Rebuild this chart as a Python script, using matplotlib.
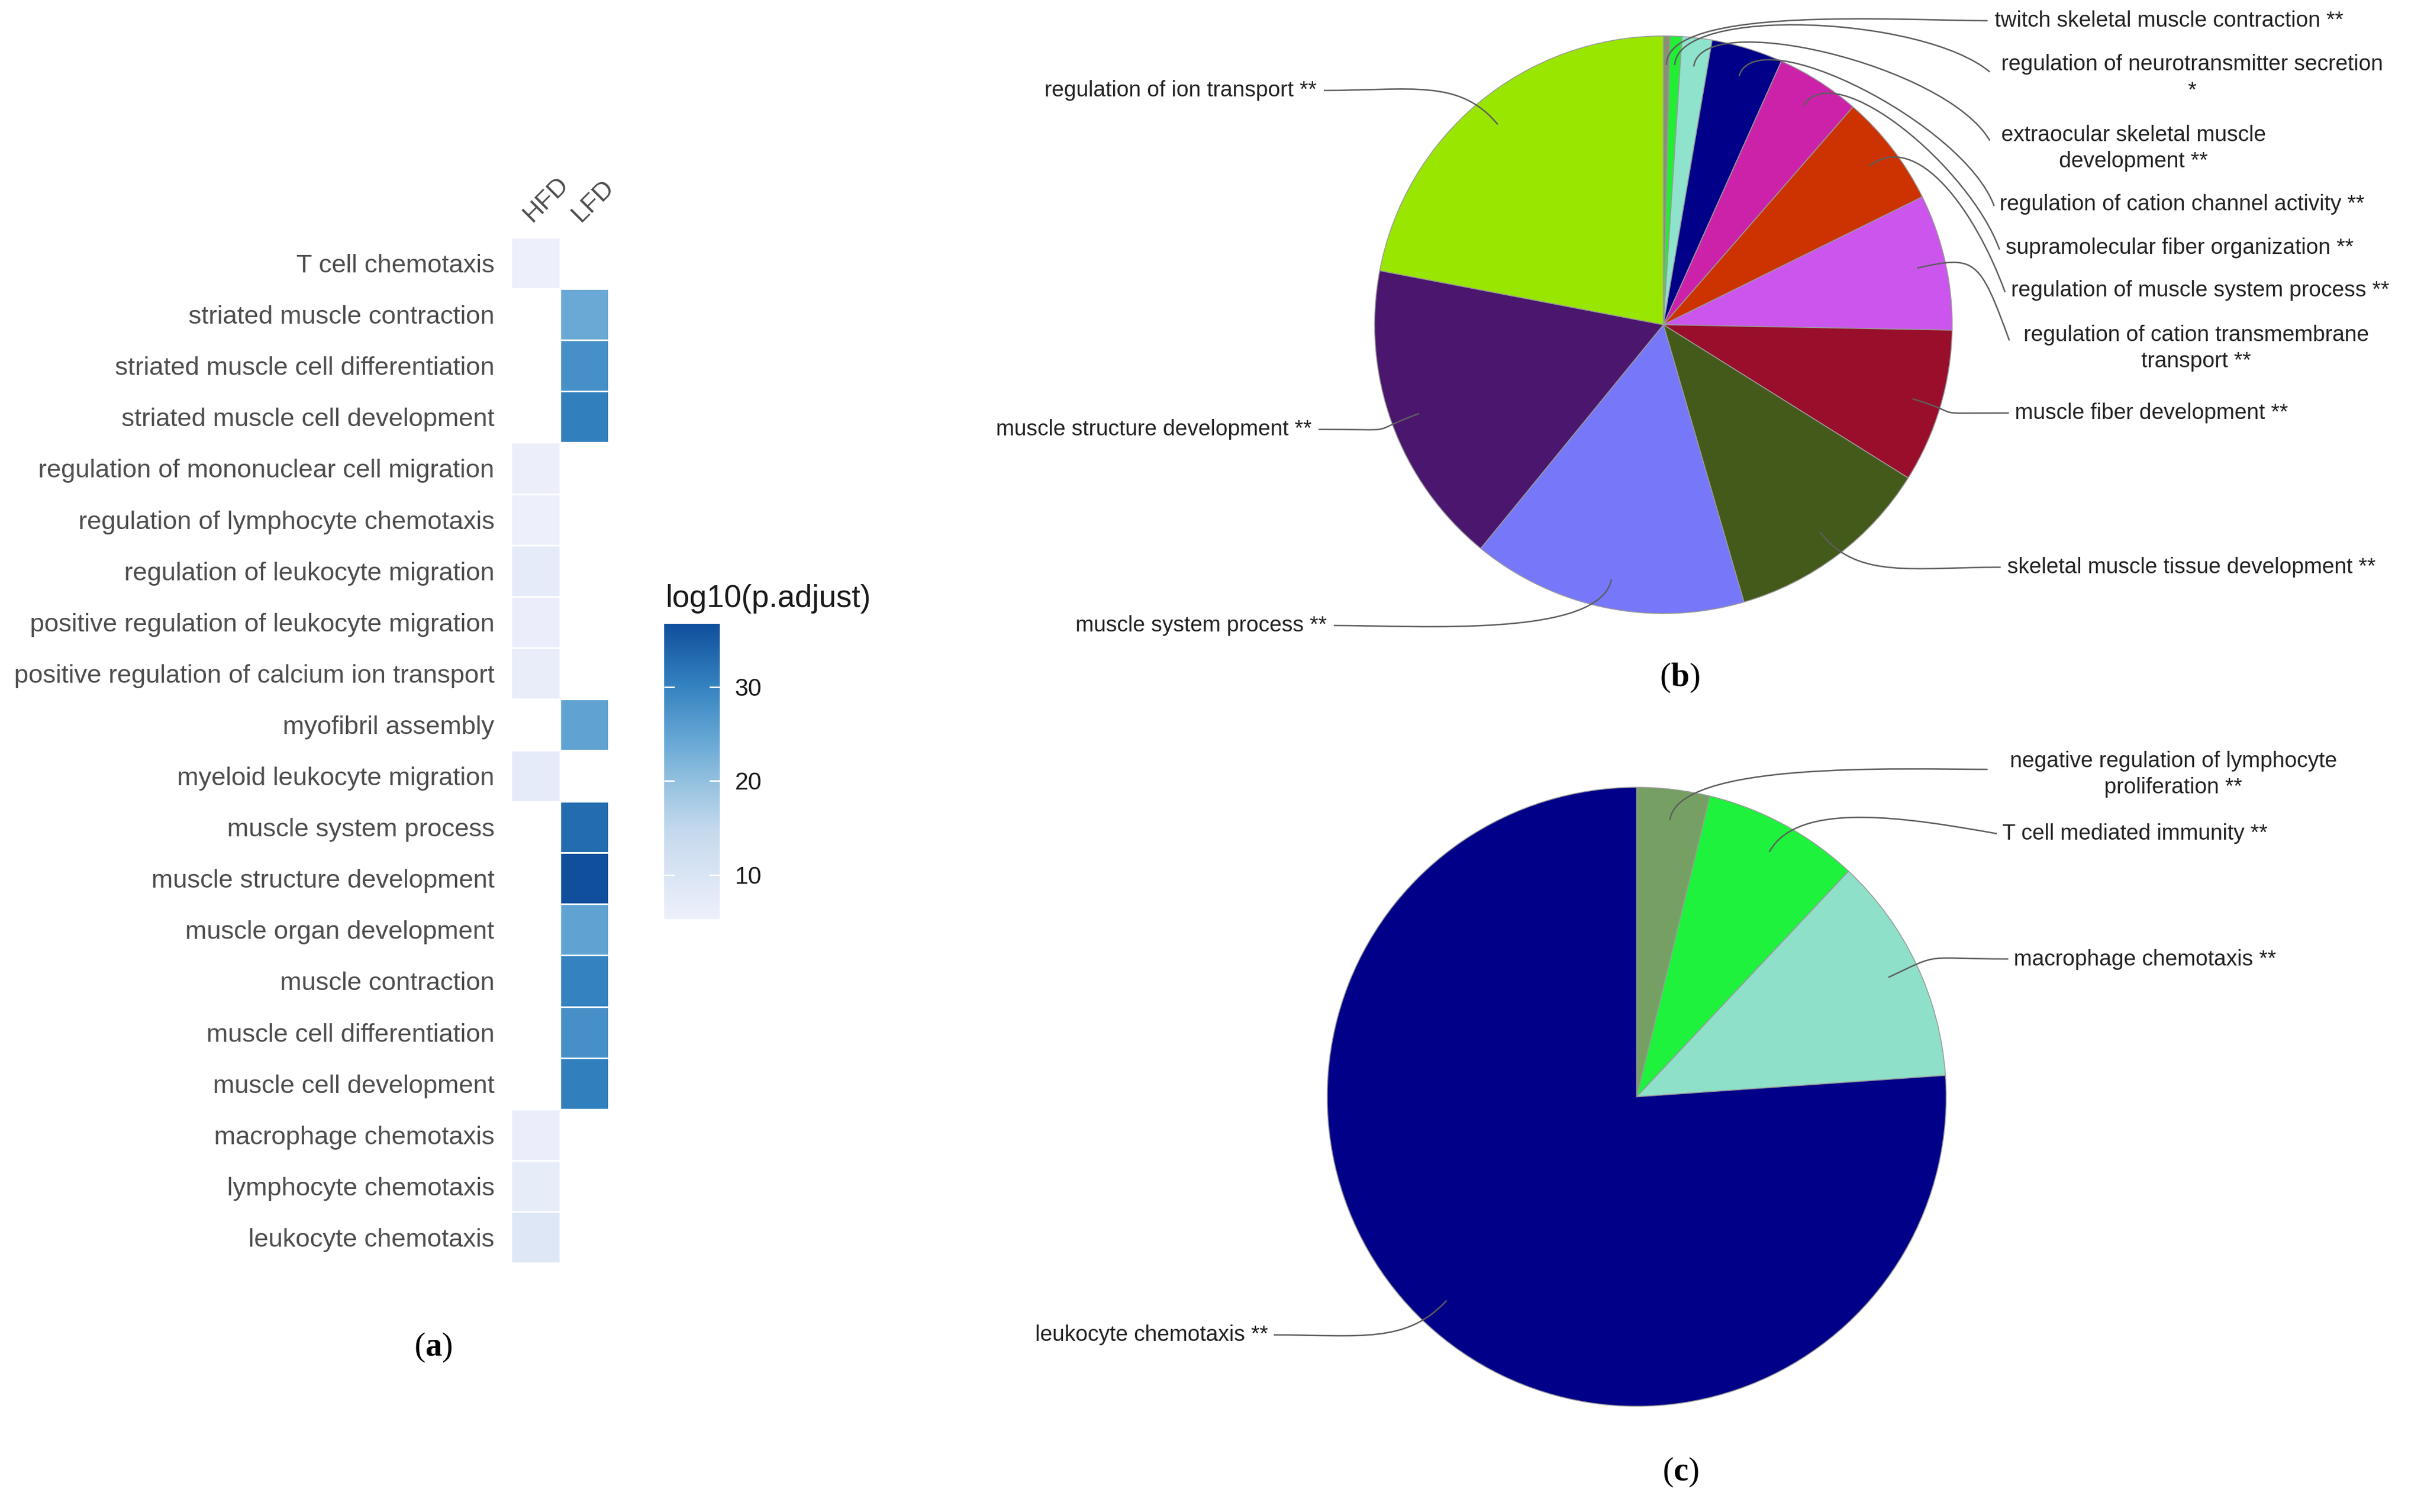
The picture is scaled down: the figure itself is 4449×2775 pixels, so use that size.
import numpy as np
import matplotlib
matplotlib.use("Agg")
import matplotlib.pyplot as plt
from matplotlib.colors import LinearSegmentedColormap, Normalize
from matplotlib.path import Path
from matplotlib.patches import PathPatch

plt.rcParams['font.family'] = ['Liberation Sans', 'DejaVu Sans']
plt.rcParams['mathtext.fontset'] = 'custom'
plt.rcParams['mathtext.rm'] = 'Liberation Serif'
plt.rcParams['mathtext.bf'] = 'Liberation Serif:bold'

nan = np.nan

# (a) heatmap data
terms = ['T cell chemotaxis', 'striated muscle contraction', 'striated muscle cell differentiation',
         'striated muscle cell development', 'regulation of mononuclear cell migration',
         'regulation of lymphocyte chemotaxis', 'regulation of leukocyte migration',
         'positive regulation of leukocyte migration', 'positive regulation of calcium ion transport',
         'myofibril assembly', 'myeloid leukocyte migration', 'muscle system process',
         'muscle structure development', 'muscle organ development', 'muscle contraction',
         'muscle cell differentiation', 'muscle cell development', 'macrophage chemotaxis',
         'lymphocyte chemotaxis', 'leukocyte chemotaxis']
groups = ['HFD', 'LFD']
hfd = [5.5, nan, nan, nan, 5.7, 5.5, 7.5, 6.0, 6.5, nan, 7.5, nan, nan, nan, nan, nan, nan, 6.0, 7.0, 9.0]
lfd = [nan, 24.0, 28.0, 30.5, nan, nan, nan, nan, nan, 25.0, nan, 33.0, 36.7, 25.0, 30.0, 28.0, 30.5, nan, nan, nan]
cbar_ticks = [10, 20, 30]

# (b) pie data, clockwise from 12 o'clock
labels_b = ['twitch skeletal muscle contraction **', 'regulation of neurotransmitter secretion\n*',
            'extraocular skeletal muscle\ndevelopment **', 'regulation of cation channel activity **',
            'supramolecular fiber organization **', 'regulation of muscle system process **',
            'regulation of cation transmembrane\ntransport **', 'muscle fiber development **',
            'skeletal muscle tissue development **', 'muscle system process **',
            'muscle structure development **', 'regulation of ion transport **']
vals_b = [0.36, 0.67, 1.67, 4.0, 4.7, 6.3, 7.6, 8.6, 11.6, 15.4, 17.1, 22.0]
colors_b = ['#8a9078', '#22ee33', '#8fe3cc', '#000088', '#cc22aa', '#cc3300',
            '#cc55ee', '#990f2b', '#445a1a', '#7777fa', '#4b176e', '#99e600']

# (c) pie data
labels_c = ['negative regulation of lymphocyte\nproliferation **', 'T cell mediated immunity **',
            'macrophage chemotaxis **', 'leukocyte chemotaxis **']
vals_c = [3.8, 8.2, 11.9, 76.1]
colors_c = ['#76a063', '#1ef23d', '#8ee0c9', '#000088']

W, H = 4449, 2775
fig = plt.figure(figsize=(W / 100, H / 100), dpi=100)

# ---- pies drawn in a pixel-coordinate axes
pax = fig.add_axes([0, 0, 1, 1])
pax.patch.set_facecolor('none')


def draw_pie(vals, colors, cx, cy, r):
    wedges, _ = pax.pie(vals, colors=colors, startangle=90, counterclock=False,
                        center=(cx, H - cy), radius=r,
                        wedgeprops=dict(edgecolor='#9a9a9a', linewidth=1.2))
    v = np.array(vals, dtype=float)
    cum = np.cumsum(v) / v.sum()
    mid = cum - v / v.sum() / 2
    ang = np.deg2rad(90 - 360 * mid)
    starts = [(cx + 0.9 * r * np.cos(a), H - cy + 0.9 * r * np.sin(a)) for a in ang]
    return starts, ang


def leader(p0, ang, end, arrive, d1=110, d2=160):
    ex, ey = end[0], H - end[1]
    side = 1 if ex > p0[0] else -1
    p1 = (p0[0] + d1 * np.cos(ang), p0[1] + d1 * np.sin(ang))
    a = np.deg2rad(arrive)
    p2 = (ex - side * d2 * np.cos(a), ey + d2 * np.sin(a))
    path = Path([p0, p1, p2, (ex, ey)], [Path.MOVETO, Path.CURVE4, Path.CURVE4, Path.CURVE4])
    pax.add_patch(PathPatch(path, fill=False, edgecolor='#5e5e5e', linewidth=1.9))


starts_b, ang_b = draw_pie(vals_b, colors_b, 3053, 596, 530)
# label anchor (x, y, ha), leader end, arrival angle
pos_b = [(3661, 38, 'left'), (4023, 142, 'center'), (3916, 272, 'center'), (3670, 375, 'left'),
         (3681, 455, 'left'), (3691, 533, 'left'), (4031, 639, 'center'), (3698, 758, 'left'),
         (3684, 1041, 'left'), (2435, 1148, 'right'), (2407, 788, 'right'), (2417, 166, 'right')]
end_b = [(3648, 38), (3652, 132), (3652, 258), (3660, 378), (3670, 458), (3680, 536), (3688, 625),
         (3687, 758), (3672, 1041), (2448, 1148), (2420, 788), (2430, 166)]
arr_b = [0, 40, 60, 70, 70, 70, 70, 0, 0, 0, 0, 0]
for i, lab in enumerate(labels_b):
    x, y, ha = pos_b[i]
    pax.text(x, H - y, lab, ha=ha, va='center', fontsize=29, color='#222222', linespacing=1.35)
    leader(starts_b[i], ang_b[i], end_b[i], arr_b[i])

starts_c, ang_c = draw_pie(vals_c, colors_c, 3004, 2013, 568)
pos_c = [(3989, 1421, 'center'), (3675, 1530, 'left'), (3696, 1761, 'left'), (2327, 2450, 'right')]
end_c = [(3648, 1412), (3665, 1530), (3686, 1760), (2338, 2450)]
arr_c = [0, 10, 0, 0]
for i, lab in enumerate(labels_c):
    x, y, ha = pos_c[i]
    pax.text(x, H - y, lab, ha=ha, va='center', fontsize=29, color='#222222', linespacing=1.35)
    leader(starts_c[i], ang_c[i], end_c[i], arr_c[i])

pax.set_aspect('auto')
pax.set_xlim(0, W)
pax.set_ylim(0, H)
pax.axis('off')

# panel letters
for letter, (x, y) in zip('abc', [(795, 2473), (3083, 1244), (3085, 2702)]):
    pax.text(x, H - y, '($\\mathbf{' + letter + '}$)', ha='center', va='center',
             fontsize=44, family='Liberation Serif', color='black')

# ---- (a) heatmap
cmap = LinearSegmentedColormap.from_list(
    'padj', [(0, '#eef0fb'), (0.3, '#c4d9ed'), (0.47, '#92c0df'), (0.62, '#62a5d3'),
             (0.79, '#3582c0'), (1.0, '#0f4f9c')])
norm = Normalize(5.3, 36.7)

hax = fig.add_axes([938 / W, 1 - 2318 / H, 179 / W, 1882 / H])
Z = np.ma.masked_invalid(np.column_stack([hfd, lfd]))
mesh = hax.pcolormesh(np.arange(3), np.arange(len(terms) + 1), Z, cmap=cmap, norm=norm,
                      edgecolors='white', linewidth=2)
hax.set_xlim(0, 2)
hax.set_ylim(len(terms), 0)
hax.set_yticks(np.arange(len(terms)) + 0.5, terms)
hax.set_xticks([0.5, 1.5], groups)
hax.xaxis.tick_top()
for s in hax.spines.values():
    s.set_visible(False)
hax.tick_params(axis='y', length=0, labelsize=34, labelcolor='#4d4d4d', pad=22)
hax.tick_params(axis='x', length=0, labelsize=34, labelcolor='#4d4d4d', pad=14)
for t in hax.get_xticklabels():
    t.set_rotation(45)
    t.set_ha('left')
    t.set_va('bottom')
    t.set_rotation_mode('anchor')

cax = fig.add_axes([1219 / W, 1 - 1687 / H, 102 / W, 542 / H])
cb = fig.colorbar(mesh, cax=cax)
cb.outline.set_visible(False)
cb.set_ticks(cbar_ticks)
cax.tick_params(direction='in', length=14, width=2, color='white', left=True, right=True,
                labelsize=32, labelcolor='#1a1a1a', pad=20)
fig.text(1221 / W, 1 - 1099 / H, 'log10(p.adjust)', fontsize=41, color='#1a1a1a',
         ha='left', va='center')

fig.savefig('out.png', dpi=100, facecolor='white')
